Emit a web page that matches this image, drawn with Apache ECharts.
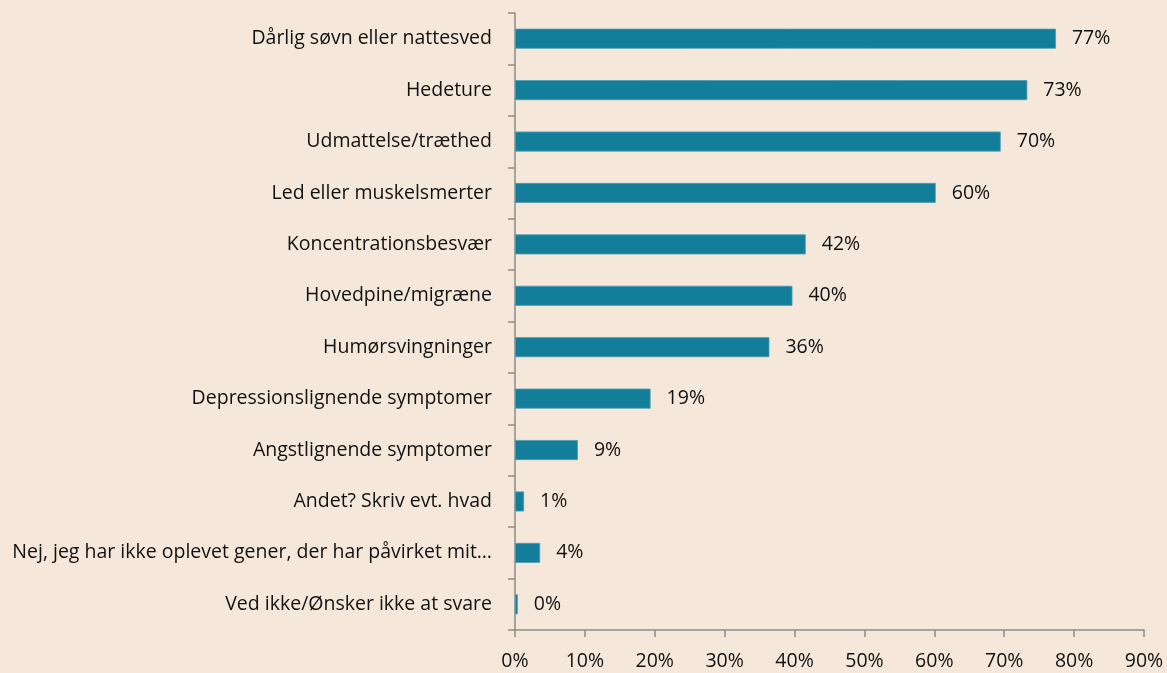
<!DOCTYPE html>
<html>
<head>
<meta charset="utf-8">
<script src="https://cdn.jsdelivr.net/npm/echarts@6/dist/echarts.min.js"></script>
<style>
html,body{margin:0;padding:0;background:#f5e8db;}
#chart{width:1167px;height:673px;}
</style>
</head>
<body>
<div id="chart"></div>
<script>
const categories = [
  "Dårlig søvn eller nattesved",
  "Hedeture",
  "Udmattelse/træthed",
  "Led eller muskelsmerter",
  "Koncentrationsbesvær",
  "Hovedpine/migræne",
  "Humørsvingninger",
  "Depressionslignende symptomer",
  "Angstlignende symptomer",
  "Andet? Skriv evt. hvad",
  "Nej, jeg har ikke oplevet gener, der har påvirket mit…",
  "Ved ikke/Ønsker ikke at svare"
];
const values = [77.4, 73.3, 69.5, 60.2, 41.6, 39.7, 36.4, 19.4, 9.0, 1.3, 3.6, 0.4];
const xTicks = [0, 10, 20, 30, 40, 50, 60, 70, 80, 90];

const font = '"Open Sans", "Noto Sans", sans-serif';
const chart = echarts.init(document.getElementById('chart'), null, {renderer: 'canvas'});
chart.setOption({
  backgroundColor: '#f5e8db',
  animation: false,
  grid: {left: 515, right: 23, top: 13, bottom: 43, containLabel: false},
  xAxis: {
    type: 'value', min: xTicks[0], max: xTicks[xTicks.length - 1], interval: 10,
    axisLine: {show: true, lineStyle: {color: '#8c8c8c', width: 1.5}},
    axisTick: {show: true, length: 7, lineStyle: {color: '#8c8c8c', width: 1.5}},
    splitLine: {show: false},
    axisLabel: {margin: 21, color: '#111111', fontSize: 19.5, fontFamily: font,
      formatter: v => v + '%'}
  },
  yAxis: {
    type: 'category', data: categories, inverse: true,
    axisLine: {show: true, lineStyle: {color: '#8c8c8c', width: 1.5}},
    axisTick: {show: true, length: 7, alignWithLabel: false, lineStyle: {color: '#8c8c8c', width: 1.5}},
    axisLabel: {margin: 23, color: '#111111', fontSize: 19.5, fontFamily: font}
  },
  series: [{
    type: 'bar', data: values, barWidth: 20,
    itemStyle: {color: '#137e9a', borderColor: '#4d9cb2', borderWidth: 0.8},
    label: {show: true, position: 'right', distance: 16, color: '#111111', fontSize: 19.5,
      fontFamily: font, formatter: p => Math.round(p.value) + '%'}
  }]
});
</script>
</body>
</html>
